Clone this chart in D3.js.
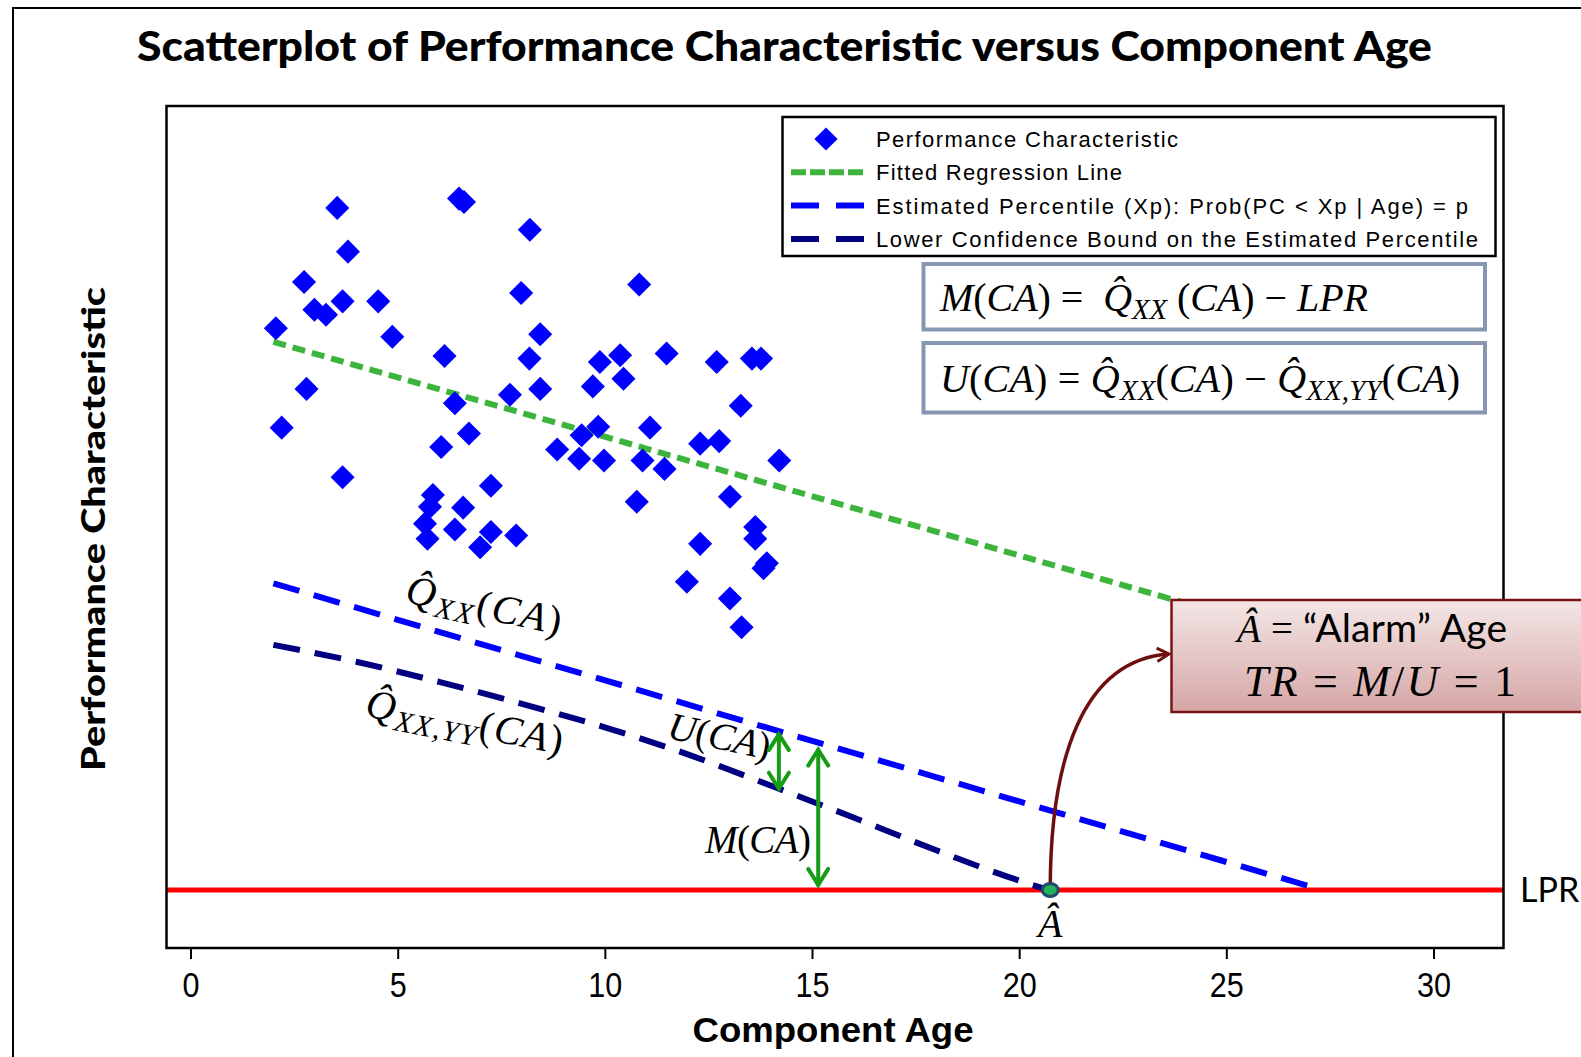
<!DOCTYPE html>
<html>
<head>
<meta charset="utf-8">
<script src="https://cdn.jsdelivr.net/npm/d3@7"></script>
<style>
  body { margin: 0; background: #fff; }
  svg { display: block; }
  text { white-space: pre; }
</style>
</head>
<body>
<div id="chart"></div>
<script>
/**
 * DATA (PC in arbitrary units)
 * */
const ages = [3.54, 6.48, 6.60, 8.19, 3.80, 2.74, 7.98, 2.99, 3.27, 3.67,
  4.53, 2.06, 4.87, 8.44, 6.13, 8.18, 2.80, 8.44, 6.38, 7.71,
  2.20, 6.72, 6.05, 3.67, 7.25, 5.85, 5.78, 6.58, 5.66, 5.72,
  6.38, 7.25, 6.99, 7.86, 10.83, 9.88, 10.37, 10.45, 11.49, 12.70,
  13.55, 13.77, 9.71, 13.28, 9.84, 9.44, 11.09, 8.85, 9.38, 9.98,
  10.91, 11.44, 12.30, 12.76, 14.21, 13.02, 10.77, 13.63, 13.63, 13.91,
  13.83, 12.30, 11.98, 13.02, 13.30];
const pcs = [87.9, 89.0, 88.6, 85.3, 82.7, 79.1, 77.8, 75.8, 75.2, 76.8,
  76.8, 73.6, 72.6, 72.9, 70.3, 70.0, 66.4, 66.4, 64.7, 65.7,
  61.8, 61.1, 59.5, 55.9, 54.9, 53.8, 52.4, 52.3, 50.4, 48.6,
  49.7, 49.4, 47.6, 49.0, 78.8, 69.6, 70.4, 67.6, 70.6, 69.6,
  70.0, 70.0, 66.7, 64.4, 61.9, 60.9, 61.8, 59.2, 58.1, 57.9,
  57.9, 56.9, 59.9, 60.2, 57.9, 53.6, 53.0, 50.0, 48.6, 45.7,
  45.1, 48.0, 43.5, 41.5, 38.1];

// fitted regression line
const fitAge = [2.0, 27.0];
const fitPC = [72.0, 36.75];
// estimated percentile Q_XX
const pctAge = [2.0, 27.1];
const pctPC = [43.3, 7.2];
// lower confidence bound Q_XX,YY
const lcbAge = [2, 4, 6, 8, 10, 12, 14, 16, 18, 20, 20.7];
const lcbPC = [36.0, 34.0, 31.6, 29.0, 26.2, 23.0, 19.3, 15.5, 11.6, 8.0, 6.9];

const LPR = 6.9;
const alarmAge = 20.75;
const uArrowAge = 14.2;
const mArrowAge = 15.15;

const xTicks = [0, 5, 10, 15, 20, 25, 30];

const legendLabels = [
  "Performance Characteristic",
  "Fitted Regression Line",
  "Estimated Percentile (Xp): Prob(PC < Xp | Age) = p",
  "Lower Confidence Bound on the Estimated Percentile"
];
const legendWidths = [302, 246, 592, 602];

/**
 * CONSTANTS
 * */
const width = 1581, height = 1057;
const plot = { left: 166.5, right: 1503.5, top: 106, bottom: 948 };

const blue = "#0000ff", navy = "#000080", green = "#3db53d",
  red = "#ff0000", arrowGreen = "#179c17", brown = "#6e0e0e";
const mathFont = "'Liberation Serif', 'DejaVu Serif', serif";
const narrowFont = "'Liberation Sans Narrow', 'Liberation Sans', Arial, sans-serif";

const x = d3.scaleLinear().domain([-0.58, 31.69]).range([plot.left, plot.right]);
const y = d3.scaleLinear().domain([0, 100]).range([plot.bottom, plot.top]);

const svg = d3.select("#chart").append("svg")
  .attr("width", width).attr("height", height);

// outer frame
svg.append("rect")
  .attr("x", 13).attr("y", 8).attr("width", 1700).attr("height", 1200)
  .attr("fill", "white").attr("stroke", "black").attr("stroke-width", 2);

// title
svg.append("text")
  .attr("x", 137).attr("y", 61)
  .attr("textLength", 1295).attr("lengthAdjust", "spacingAndGlyphs")
  .attr("font-family", "Lato, 'Noto Sans', sans-serif")
  .attr("font-weight", 900).attr("font-size", 41)
  .text("Scatterplot of Performance Characteristic versus Component Age");

// lines
const line = d3.line().x(d => x(d[0])).y(d => y(d[1]));

svg.append("line")
  .attr("x1", plot.left).attr("x2", plot.right)
  .attr("y1", y(LPR)).attr("y2", y(LPR))
  .attr("stroke", red).attr("stroke-width", 5);

svg.append("path")
  .datum(fitAge.map((a, i) => [a, fitPC[i]]))
  .attr("d", line).attr("fill", "none")
  .attr("stroke", green).attr("stroke-width", 6).attr("stroke-dasharray", "13 7");

svg.append("path")
  .datum(pctAge.map((a, i) => [a, pctPC[i]]))
  .attr("d", line).attr("fill", "none")
  .attr("stroke", blue).attr("stroke-width", 6).attr("stroke-dasharray", "27 15");

svg.append("path")
  .datum(lcbAge.map((a, i) => [a, lcbPC[i]]))
  .attr("d", line.curve(d3.curveMonotoneX)).attr("fill", "none")
  .attr("stroke", navy).attr("stroke-width", 6).attr("stroke-dasharray", "27 15");

// scatter points
const diamond = d3.symbol(d3.symbolSquare, 290);
svg.append("g").selectAll("path")
  .data(ages.map((a, i) => [a, pcs[i]]))
  .join("path")
  .attr("d", diamond)
  .attr("fill", blue)
  .attr("transform", d => `translate(${x(d[0])},${y(d[1])}) rotate(45)`);

// plot frame
svg.append("rect")
  .attr("x", plot.left).attr("y", plot.top)
  .attr("width", plot.right - plot.left).attr("height", plot.bottom - plot.top)
  .attr("fill", "none").attr("stroke", "black").attr("stroke-width", 2.5);

// x axis
const xAxis = svg.append("g")
  .attr("transform", `translate(0,${plot.bottom})`)
  .call(d3.axisBottom(x).tickValues(xTicks).tickSize(11).tickPadding(12));
xAxis.select(".domain").remove();
xAxis.selectAll(".tick line").attr("stroke-width", 2);
xAxis.selectAll(".tick text")
  .attr("font-family", narrowFont).attr("font-size", 34).attr("fill", "black")
  .attr("transform", "scale(0.9,1.05)");

// axis titles
svg.append("text")
  .attr("x", 833).attr("y", 1042).attr("text-anchor", "middle")
  .attr("textLength", 281).attr("lengthAdjust", "spacingAndGlyphs")
  .attr("font-family", narrowFont).attr("font-weight", "bold").attr("font-size", 35)
  .text("Component Age");

svg.append("text")
  .attr("transform", "translate(105,529) rotate(-90)")
  .attr("text-anchor", "middle")
  .attr("textLength", 484).attr("lengthAdjust", "spacingAndGlyphs")
  .attr("font-family", "Lato, 'Noto Sans', sans-serif").attr("font-weight", 900).attr("font-size", 33)
  .text("Performance Characteristic");

// legend
const lg = svg.append("g");
lg.append("rect")
  .attr("x", 782.5).attr("y", 117).attr("width", 713).attr("height", 139)
  .attr("fill", "white").attr("stroke", "black").attr("stroke-width", 2.5);
const rowY = i => 139 + i * 33.3;
lg.append("path").attr("d", d3.symbol(d3.symbolSquare, 270))
  .attr("fill", blue).attr("transform", `translate(826,${rowY(0)}) rotate(45)`);
[[green, "15 4"], [blue, "28 17"], [navy, "28 17"]].forEach(([c, dash], k) => {
  lg.append("line")
    .attr("x1", 791).attr("x2", 866).attr("y1", rowY(k + 1)).attr("y2", rowY(k + 1))
    .attr("stroke", c).attr("stroke-width", 6).attr("stroke-dasharray", dash);
});
lg.selectAll("text.lab").data(legendLabels).join("text")
  .attr("class", "lab")
  .attr("x", 876).attr("y", (d, i) => rowY(i) + 8)
  .attr("textLength", (d, i) => legendWidths[i]).attr("lengthAdjust", "spacing")
  .attr("font-family", narrowFont).attr("font-size", 22)
  .text(d => d);

// math text helper: parts = [text, style] with style n (upright), i (italic), s (italic subscript), sans
function mathText(g, px, py, parts, size, anchor, len) {
  const t = g.append("text").attr("x", px).attr("y", py)
    .attr("font-family", mathFont).attr("font-size", size)
    .attr("text-anchor", anchor || "start");
  if (len) t.attr("textLength", len).attr("lengthAdjust", "spacing");
  let shifted = false;
  parts.forEach(([s, st]) => {
    const ts = t.append("tspan").text(s);
    if (st === "i" || st === "s") ts.attr("font-style", "italic");
    if (st === "sans") ts.attr("font-family", "Lato, 'Open Sans', sans-serif");
    if (st === "s") {
      ts.attr("font-size", size * 0.72).attr("dy", size * 0.2);
      shifted = true;
    } else if (shifted) {
      ts.attr("dy", -size * 0.2);
      shifted = false;
    }
  });
  return t;
}

// formula boxes
const fb = svg.append("g");
[[264, 65.5], [343, 69.5]].forEach(([top, h]) => {
  fb.append("rect").attr("x", 923.5).attr("y", top).attr("width", 561.5).attr("height", h)
    .attr("fill", "white").attr("stroke", "#8797b2").attr("stroke-width", 4);
});
mathText(fb, 940, 311, [["M", "i"], ["(", "n"], ["CA", "i"], [")", "n"], [" =  ", "n"],
  ["Q\u0302", "i"], ["XX", "s"], [" (", "n"], ["CA", "i"], [")", "n"], [" \u2212 ", "n"], ["LPR", "i"]],
  40, "start", 428);
mathText(fb, 940, 392, [["U", "i"], ["(", "n"], ["CA", "i"], [")", "n"], [" = ", "n"],
  ["Q\u0302", "i"], ["XX", "s"], ["(", "n"], ["CA", "i"], [")", "n"], [" \u2212 ", "n"],
  ["Q\u0302", "i"], ["XX,YY", "s"], ["(", "n"], ["CA", "i"], [")", "n"]],
  40, "start", 520);

// curve labels
const ann = svg.append("g");
mathText(ann, 0, 0, [["Q\u0302", "i"], ["XX", "s"], ["(", "n"], ["CA", "i"], [")", "n"]], 41, "start", 158)
  .attr("transform", "translate(404,602) rotate(12)");
mathText(ann, 0, 0, [["Q\u0302", "i"], ["XX,YY", "s"], ["(", "n"], ["CA", "i"], [")", "n"]], 41, "start", 200)
  .attr("transform", "translate(364,716) rotate(11)");
mathText(ann, 0, 0, [["U", "i"], ["(", "n"], ["CA", "i"], [")", "n"]], 39)
  .attr("transform", "translate(666,738) rotate(12)");
mathText(ann, 705, 853, [["M", "i"], ["(", "n"], ["CA", "i"], [")", "n"]], 39, "start", 106);
mathText(ann, x(alarmAge), 937, [["\u00C2", "i"]], 40, "middle");

svg.append("text")
  .attr("x", 1520).attr("y", 902)
  .attr("font-family", "Lato, 'Open Sans', sans-serif").attr("font-size", 34)
  .text("LPR");

// green double arrows between the curves
const pctAt = d3.scaleLinear().domain(pctAge).range(pctPC);
const lcbAt = d3.scaleLinear().domain(lcbAge).range(lcbPC);
function dblArrow(px, y0, y1) {
  const g = svg.append("g").attr("stroke", arrowGreen).attr("stroke-width", 4)
    .attr("fill", "none").attr("stroke-linecap", "round");
  g.append("line").attr("x1", px).attr("x2", px).attr("y1", y0).attr("y2", y1);
  g.append("path").attr("d", `M${px - 10},${y0 + 16} L${px},${y0} L${px + 10},${y0 + 16}`);
  g.append("path").attr("d", `M${px - 10},${y1 - 16} L${px},${y1} L${px + 10},${y1 - 16}`);
}
dblArrow(x(uArrowAge), y(pctAt(uArrowAge)) + 3, y(lcbAt(uArrowAge)));
dblArrow(x(mArrowAge), y(pctAt(mArrowAge)) + 7, y(LPR) - 5);

// alarm box
const defs = svg.append("defs");
const grad = defs.append("linearGradient").attr("id", "alarmFill")
  .attr("x1", 0).attr("x2", 0).attr("y1", 0).attr("y2", 1);
grad.append("stop").attr("offset", "0%").attr("stop-color", "#f4e6e6");
grad.append("stop").attr("offset", "100%").attr("stop-color", "#d6a6a6");
defs.append("marker").attr("id", "chev")
  .attr("viewBox", "0 0 12 12").attr("refX", 10).attr("refY", 6)
  .attr("markerWidth", 16).attr("markerHeight", 16)
  .attr("markerUnits", "userSpaceOnUse").attr("orient", "auto")
  .append("path").attr("d", "M1,1 L10,6 L1,11")
  .attr("fill", "none").attr("stroke", brown).attr("stroke-width", 2.2);

const ax = x(alarmAge), ay = y(LPR);
svg.append("path")
  .attr("d", `M${ax},${ay} C${ax},${ay - 130} ${ax + 32},${ay - 230} 1169,654`)
  .attr("fill", "none").attr("stroke", brown).attr("stroke-width", 3.5)
  .attr("marker-end", "url(#chev)");

svg.append("ellipse")
  .attr("cx", ax).attr("cy", ay).attr("rx", 8).attr("ry", 6.5)
  .attr("fill", "#22b35a").attr("stroke", "#234868").attr("stroke-width", 3);

svg.append("rect")
  .attr("x", 1171.5).attr("y", 600).attr("width", 460).attr("height", 112)
  .attr("fill", "url(#alarmFill)").attr("stroke", "#7a1414").attr("stroke-width", 2.5);
mathText(svg, 1372, 642, [["\u00C2", "i"], [" = ", "n"], ["\u201CAlarm\u201D Age", "sans"]], 39, "middle", 270);
mathText(svg, 1380, 696, [["TR", "i"], [" = ", "n"], ["M", "i"], ["/", "n"], ["U", "i"], [" = 1", "n"]], 44, "middle", 272);
</script>
</body>
</html>
